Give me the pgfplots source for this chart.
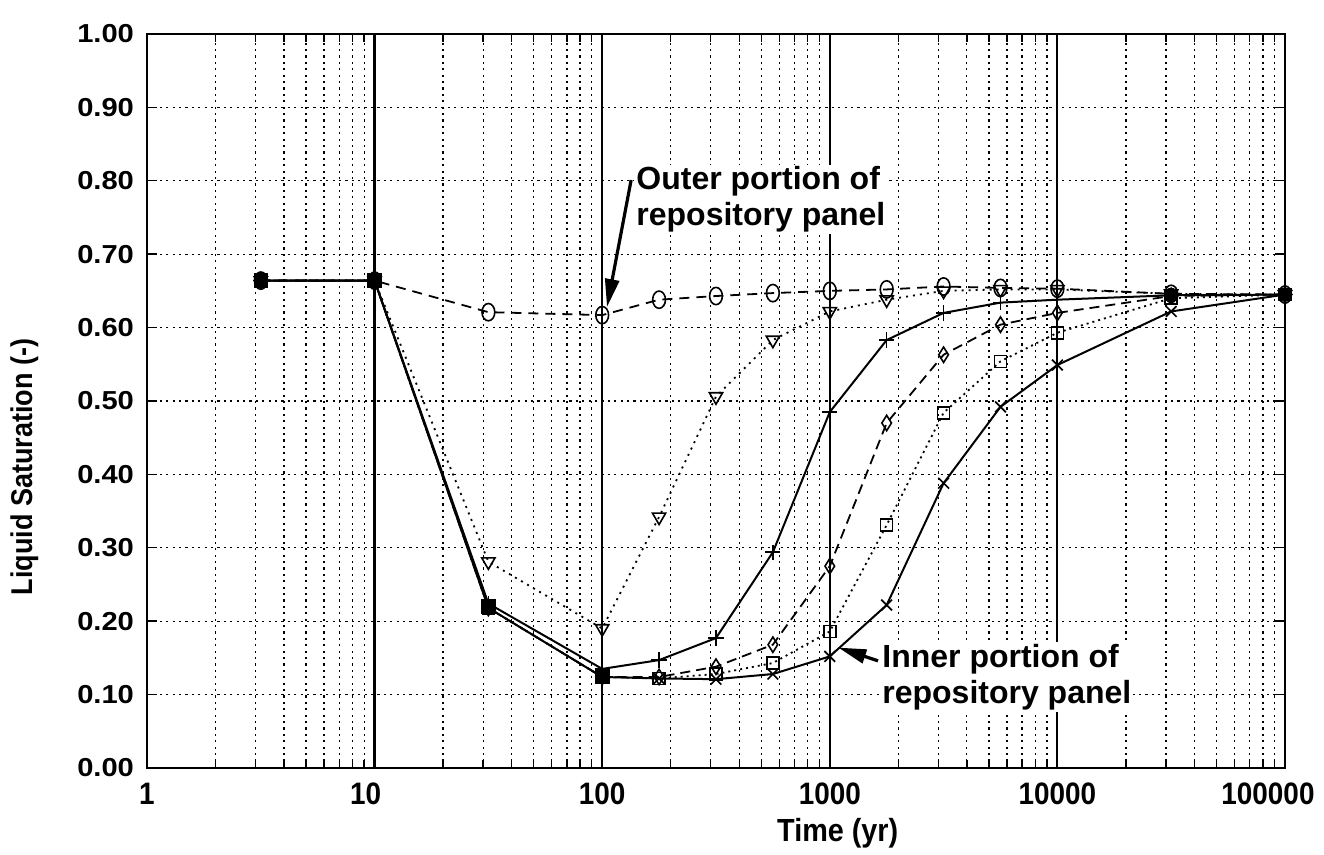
\documentclass[border=0pt]{standalone}
\usepackage{fontspec}
\setmainfont{Liberation Sans}
\newfontfamily\wideb{Liberation Sans}[FakeStretch=1.12]
\newfontfamily\narrowb{Liberation Sans}[FakeStretch=0.9]
\usepackage{pgfplots}
\usepackage{pgfplotstable}
\pgfplotsset{compat=1.18}
\usetikzlibrary{arrows.meta}

% Liquid saturation vs. time for the repository panel locations
\pgfplotstableread{
t       outer  tri    plus   dia    sq     cross
3.162   0.664  0.664  0.664  0.664  0.664  0.664
10      0.664  0.664  0.664  0.664  0.664  0.664
31.62   0.621  0.281  0.224  0.218  0.218  0.218
100     0.617  0.190  0.135  0.124  0.124  0.124
177.8   0.638  0.342  0.147  0.124  0.122  0.122
316.2   0.643  0.506  0.177  0.138  0.128  0.121
562.3   0.647  0.583  0.294  0.168  0.143  0.128
1000    0.650  0.622  0.485  0.275  0.186  0.152
1778    0.652  0.638  0.583  0.470  0.331  0.222
3162    0.656  0.650  0.620  0.563  0.484  0.388
5623    0.654  0.652  0.634  0.604  0.554  0.492
10000   0.653  0.652  0.638  0.620  0.593  0.549
31623   0.646  0.646  0.644  0.643  0.640  0.622
100000  0.645  0.645  0.645  0.645  0.645  0.645
}\satdata

\begin{document}
\begin{tikzpicture}
\begin{axis}[
  scale only axis, width=569pt, height=367pt,
  xmode=log, log basis x=10,
  xmin=1, xmax=100000, ymin=0, ymax=1,
  xtick={1,10,100,1000,10000,100000},
  xticklabels={1,\hspace*{-9pt}10,100,1000,10000,\hspace*{-17pt}100000},
  minor xtick={2,3,4,5,6,7,8,9,20,30,40,50,60,70,80,90,200,300,400,500,600,700,800,900,2000,3000,4000,5000,6000,7000,8000,9000,20000,30000,40000,50000,60000,70000,80000,90000},
  ytick={0,0.1,0.2,0.3,0.4,0.5,0.6,0.7,0.8,0.9,1},
  yticklabels={0.00,0.10,0.20,0.30,0.40,0.50,0.60,0.70,0.80,0.90,1.00},
  grid=both,
  major grid style={black, line width=0.65pt, dash pattern=on 1.1pt off 2.1pt},
  minor grid style={black, line width=0.65pt, dash pattern=on 1.1pt off 2.1pt},
  extra x ticks={10,100,1000,10000},
  extra x tick labels={},
  extra x tick style={grid=major, major grid style={solid, black, line width=1.1pt}},
  axis line style={line width=1.1pt},
  tick style={black, line width=0.7pt},
  major tick length=5pt, minor tick length=4pt,
  /pgf/number format/assume math mode=true,
  xticklabel style={font=\narrowb\fontsize{15.5}{17}\selectfont\bfseries, yshift=-4pt},
  yticklabel style={font=\wideb\fontsize{13}{15}\selectfont\bfseries, xshift=-3pt},
  xlabel={Time (yr)},
  ylabel={Liquid Saturation (-)},
  xlabel style={font=\narrowb\fontsize{16}{18}\selectfont\bfseries, at={(axis description cs:0.607,0)}, anchor=center, yshift=-32.5pt},
  ylabel style={font=\narrowb\fontsize{15}{17}\selectfont\bfseries, at={(axis description cs:-0.107,0.41)}, anchor=center},
]
% outer portion of the panel
\addplot[black, line width=0.9pt, dash pattern=on 5pt off 3.5pt, mark=o, mark size=3.2pt,
  mark options={solid, yscale=1.35, line width=0.8pt}] table[x=t, y=outer]{\satdata};
\addplot[black, line width=0.9pt, dash pattern=on 1pt off 2.5pt, mark=triangle, mark size=3.8pt,
  mark options={solid, rotate=180, line width=0.8pt}] table[x=t, y=tri]{\satdata};
\addplot[black, line width=1pt, mark=+, mark size=3.8pt,
  mark options={solid, line width=0.8pt}] table[x=t, y=plus]{\satdata};
\addplot[black, line width=0.9pt, dash pattern=on 5pt off 3pt, mark=diamond, mark size=3.2pt,
  mark options={solid, yscale=1.2, line width=0.8pt}] table[x=t, y=dia]{\satdata};
\addplot[black, line width=0.9pt, dash pattern=on 1pt off 2pt, mark=square, mark size=3pt,
  mark options={solid, line width=0.8pt}] table[x=t, y=sq]{\satdata};
% inner portion of the panel
\addplot[black, line width=1pt, mark=x, mark size=3.8pt,
  mark options={solid, line width=0.8pt}] table[x=t, y=cross]{\satdata};
% coincident markers
\addplot[only marks, black, mark=square*, mark size=3.4pt] coordinates {(3.162,0.664) (10,0.664) (31.62,0.220) (100,0.124)};
\addplot[only marks, black, mark=*, mark size=3.2pt] coordinates {(31623,0.645) (100000,0.645)};

\node[anchor=west, align=left, fill=white, inner sep=1pt, font=\fontsize{16}{18}\selectfont\bfseries]
  at (axis cs:138,0.7745) {Outer portion of\\repository panel};
\draw[-{Triangle[length=14pt, width=7pt]}, line width=1.6pt] (axis cs:134,0.801) -- (axis cs:105,0.628);
\node[anchor=west, align=left, fill=white, inner sep=1pt, font=\fontsize{16}{18}\selectfont\bfseries]
  at (axis cs:1662,0.124) {Inner portion of\\repository panel};
\draw[-{Triangle[length=14pt, width=7pt]}, line width=1.6pt] (axis cs:1629,0.146) -- (axis cs:1090,0.164);
\end{axis}
\pgfresetboundingbox
\path (current axis.south west) ++(-73.5pt,-43.5pt) rectangle ++(662pt,427.5pt);
\end{tikzpicture}
\end{document}
